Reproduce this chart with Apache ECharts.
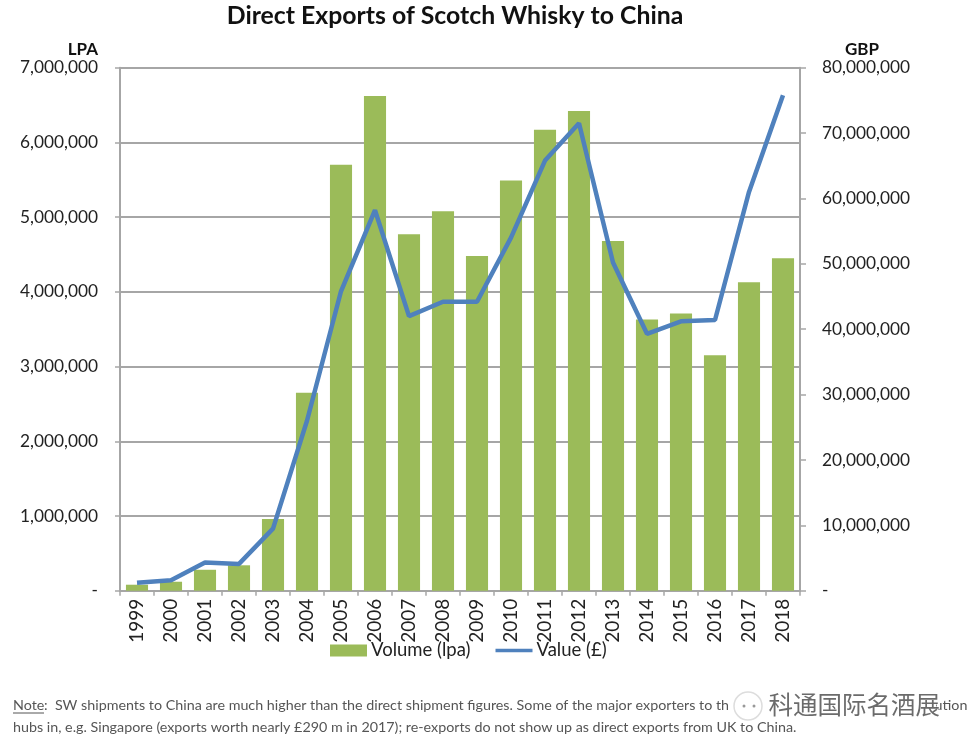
<!DOCTYPE html>
<html style="height: 100%">
<head>
<meta charset="utf-8"/>
<script src="https://cdn.jsdelivr.net/npm/echarts@6/dist/echarts.min.js"></script>
</head>
<body style="height: 100%; margin: 0; background: #fff">
<div id="container" style="width: 971px; height: 749px"></div>
<script>
var years = ['1999','2000','2001','2002','2003','2004','2005','2006','2007','2008','2009','2010','2011','2012','2013','2014','2015','2016','2017','2018'];
var volumeLpa = [80000,120000,280000,340000,960000,2650000,5700000,6620000,4770000,5080000,4480000,5490000,6170000,6420000,4680000,3630000,3710000,3150000,4130000,4450000];
var valueGbp = [1200000,1600000,4300000,4100000,9500000,26000000,45800000,58200000,42000000,44200000,44200000,54000000,65800000,71500000,50200000,39300000,41200000,41400000,61000000,75800000];

var fontName = 'Lato';
var axisGrey = '#a6a6a6';
var textColor = '#222';

function fmt(v){
	if(v == 0) return '-';
	return v.toString().replace(/\B(?=(\d{3})+$)/g, ',');
}

var myChart = echarts.init(document.getElementById('container'));
var option = {
	animation: false,
	textStyle: {fontFamily: fontName},
	title: {
		text: 'Direct Exports of Scotch Whisky to China',
		left: 450, top: -1, textAlign: 'center',
		textStyle: {fontFamily: fontName, fontSize: 24.8, fontWeight: 'bold', color: '#111'}
	},
	grid: {left: 120, right: 171, top: 67.7, bottom: 158.3},
	legend: {
		top: 636, left: 325, itemGap: 25, itemWidth: 37, itemHeight: 12,
		textStyle: {fontFamily: fontName, fontSize: 18.5, color: textColor, padding: [0, 0, 0, -1]},
		data: [
			{name: 'Volume (lpa)', icon: 'rect'},
			{name: 'Value (£)', icon: 'path://M0,45H100V55H0Z'}
		]
	},
	xAxis: {
		type: 'category', data: years,
		axisLine: {lineStyle: {color: axisGrey, width: 2}},
		axisTick: {show: true, length: 5, alignWithLabel: false, lineStyle: {color: axisGrey, width: 1.5}},
		axisLabel: {rotate: 90, fontSize: 19, color: textColor, margin: 8, interval: 0}
	},
	yAxis: [{
		type: 'value', min: 0, max: 7000000, interval: 1000000,
		name: 'LPA', nameLocation: 'end', nameGap: 10,
		nameTextStyle: {fontFamily: fontName, fontSize: 17, fontWeight: 'bold', color: '#111', align: 'right', padding: [0, 22, 0, 0]},
		axisLine: {show: true, lineStyle: {color: axisGrey, width: 2}},
		axisTick: {show: true, length: 5, lineStyle: {color: axisGrey, width: 1.5}},
		splitLine: {show: true, lineStyle: {color: axisGrey, width: 2}},
		axisLabel: {fontSize: 17.3, color: textColor, margin: 22, formatter: fmt}
	}, {
		type: 'value', min: 0, max: 80000000, interval: 10000000,
		name: 'GBP', nameLocation: 'end', nameGap: 10,
		nameTextStyle: {fontFamily: fontName, fontSize: 17, fontWeight: 'bold', color: '#111', align: 'left', padding: [0, 0, 0, 45]},
		axisLine: {show: true, lineStyle: {color: axisGrey, width: 2}},
		axisTick: {show: true, length: 6, lineStyle: {color: axisGrey, width: 1.5}},
		splitLine: {show: false},
		axisLabel: {fontSize: 17.3, color: textColor, margin: 22, formatter: fmt}
	}],
	series: [{
		name: 'Volume (lpa)', type: 'bar', data: volumeLpa, yAxisIndex: 0,
		barWidth: '65%',
		itemStyle: {color: '#9bbb59'}
	}, {
		name: 'Value (£)', type: 'line', data: valueGbp, yAxisIndex: 1,
		symbol: 'none',
		lineStyle: {color: '#4f81bd', width: 4.5},
		itemStyle: {color: '#4f81bd'}
	}],
	graphic: [
		{type: 'text', left: 13, top: 698, style: {text: 'Note', font: '14.3px Lato', fill: '#555'}},
		{type: 'line', shape: {x1: 13, y1: 713, x2: 44, y2: 713}, style: {stroke: '#555', lineWidth: 1}},
		{type: 'text', left: 44, top: 698, style: {text: ':  SW shipments to China are much higher than the direct shipment figures. Some of the major exporters to the Chinese market also use distribution', font: '14.3px Lato', fill: '#555'}},
		{type: 'text', left: 13, top: 720, style: {text: 'hubs in, e.g. Singapore (exports worth nearly £290 m in 2017); re-exports do not show up as direct exports from UK to China.', font: '14.3px Lato', fill: '#555'}},
		// watermark sits on top of the note, blanks the text under it
		{type: 'rect', shape: {x: 728, y: 694, width: 208, height: 24}, style: {fill: '#fff'}},
		{type: 'circle', shape: {cx: 748, cy: 706, r: 14}, style: {fill: '#fff', stroke: '#ddd', lineWidth: 1.5}},
		{type: 'circle', shape: {cx: 744, cy: 706, r: 1.5}, style: {fill: '#999'}},
		{type: 'circle', shape: {cx: 754, cy: 706, r: 1.5}, style: {fill: '#999'}},
		{type: 'text', left: 768, top: 692, style: {text: '科通国际名酒展', font: '24.5px "Noto Sans CJK SC"', fill: 'rgba(70,70,70,0.8)', stroke: '#fff', lineWidth: 1}}
	]
};
myChart.setOption(option, true);
</script>
</body>
</html>
